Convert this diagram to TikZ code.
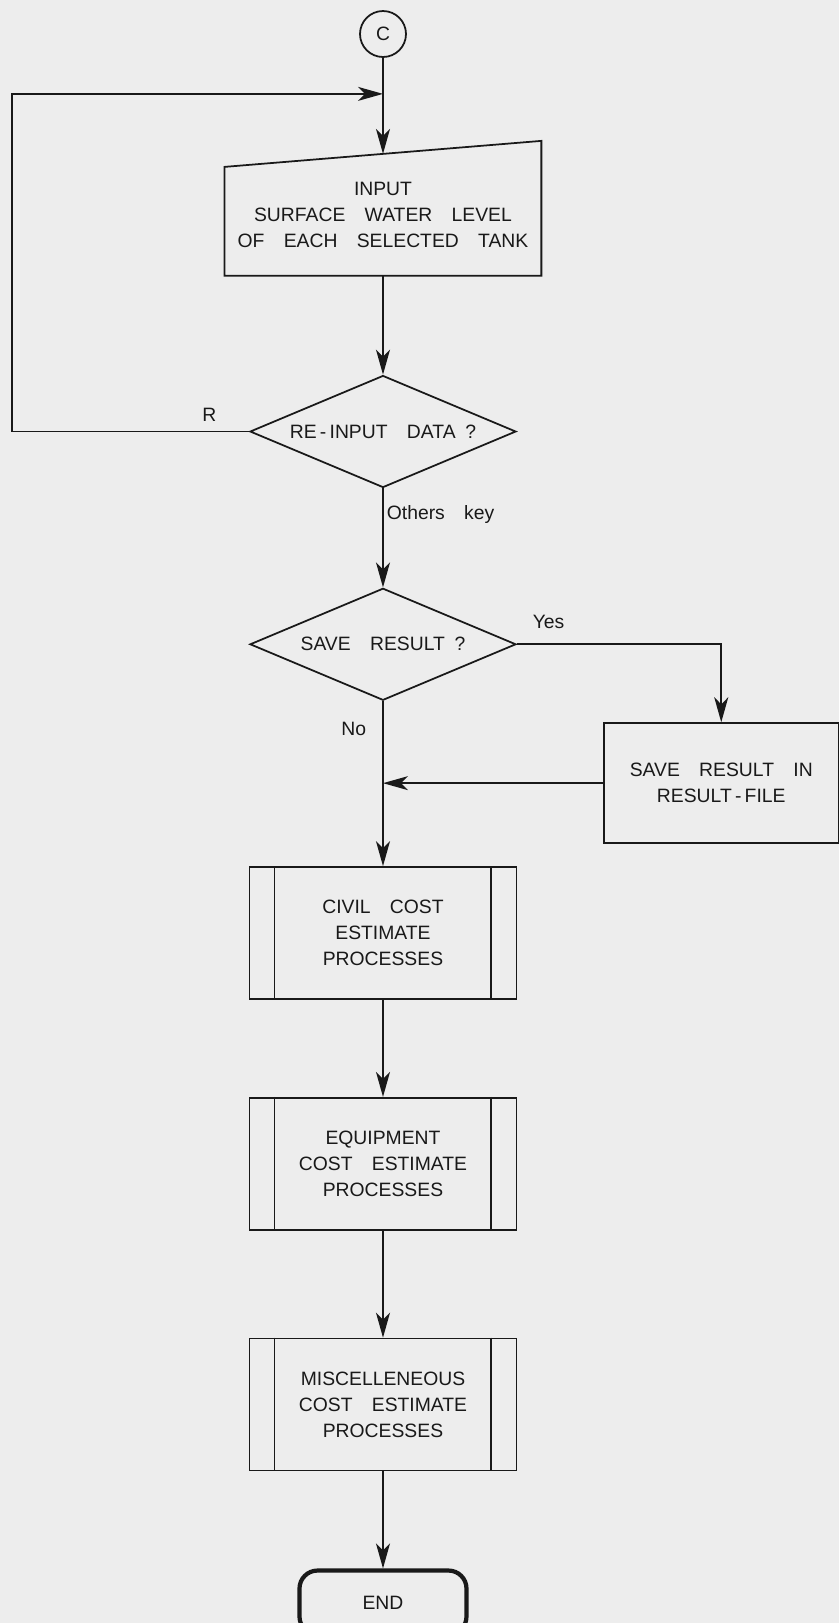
\documentclass[tikz,border=0pt]{standalone}
\usepackage{fontspec}
\setmainfont{Liberation Sans}
\usepackage{xcolor}
\usepackage{tikz}
\usetikzlibrary{calc,positioning,arrows.meta,shapes.geometric}
\definecolor{gink}{gray}{0.10}
\definecolor{gpaper}{gray}{0.93}
\newcommand{\chartfont}{\fontsize{11}{14.8}\selectfont\spaceskip=1em plus 0.2em\relax}

\begin{document}
\begin{tikzpicture}[node distance=1.95cm, font=\chartfont, line width=1pt,
    every node/.style={align=center, text=gink, inner sep=0pt},
    conn/.style={circle, draw=gink, minimum size=0.92cm},
    inbox/.style={minimum width=6.3cm, minimum height=2.4cm},
    ask/.style={diamond, draw=gink, aspect=2.4, minimum width=5.32cm, minimum height=2.24cm},
    proc/.style={rectangle, draw=gink, minimum width=5.34cm, minimum height=2.64cm},
    savebox/.style={rectangle, draw=gink, minimum width=4.7cm, minimum height=2.4cm},
    term/.style={rectangle, rounded corners=0.36cm, draw=gink, line width=2.4pt,
      minimum width=3.34cm, minimum height=1.28cm},
    lbl/.style={inner sep=0pt},
    flow/.style={draw=gink, -{Stealth[length=0.5cm, width=0.28cm, inset=0.14cm]}}]
  \path[use as bounding box, fill=gpaper] (-7.66,0.68) rectangle (9.12,-31.78);
  % main column
  \node[conn] (start) at (0,0) {C};
  \node[inbox, below=1.92cm of start] (input) {INPUT\\SURFACE WATER LEVEL\\OF EACH SELECTED TANK};
  \draw[gink] (input.south west) -- (input.south east) -- ([yshift=0.26cm]input.north east)
    -- ([yshift=-0.26cm]input.north west) -- cycle;
  \node[ask, below=1.98cm of input] (again) {RE\,-\,INPUT DATA\enspace ?};
  \node[ask, below=1.98cm of again] (save) {SAVE RESULT\enspace ?};
  \node[savebox, below right=1.56cm and 1.72cm of save.east] (store) {SAVE RESULT IN\\RESULT\,-\,FILE};
  \node[proc, below=3.3cm of save] (civil) {CIVIL COST\\ESTIMATE\\PROCESSES};
  \node[proc, below=1.94cm of civil] (equip) {EQUIPMENT\\COST ESTIMATE\\PROCESSES};
  \node[proc, below=2.14cm of equip] (misc) {MISCELLENEOUS\\COST ESTIMATE\\PROCESSES};
  \node[term, below=1.94cm of misc] (stop) {END};
  \foreach \p in {civil,equip,misc}{
    \draw[gink] ([xshift=0.52cm]\p.north west) -- ([xshift=0.52cm]\p.south west);
    \draw[gink] ([xshift=-0.52cm]\p.north east) -- ([xshift=-0.52cm]\p.south east);
  }
  % labels
  \node[lbl, above left=0.18cm and 0.64cm of again.west] (rkey) {R};
  \node[lbl, below right=0.32cm and 0.06cm of again.south] (others) {Others key};
  \node[lbl, above right=0.3cm and 0.3cm of save.east] (yes) {Yes};
  \node[lbl, below left=0.4cm and 0.32cm of save.south] (no) {No};
  % connectors
  \coordinate (merge) at ($(start.south)!0.375!(input.north)$);
  \coordinate (loopcorner) at ([xshift=-4.74cm]again.west);
  \draw[flow] (start) -- (input.north);
  \draw[flow] (again.west) -- (loopcorner) |- (merge);
  \draw[flow] (input) -- (again);
  \draw[flow] (again) -- (save);
  \draw[flow] (save.east) -| (store.north);
  \draw[flow] (store.west) -- (store.west -| save.south);
  \draw[flow] (save) -- (civil);
  \draw[flow] (civil) -- (equip);
  \draw[flow] (equip) -- (misc);
  \draw[flow] (misc) -- (stop);
\end{tikzpicture}
\end{document}
